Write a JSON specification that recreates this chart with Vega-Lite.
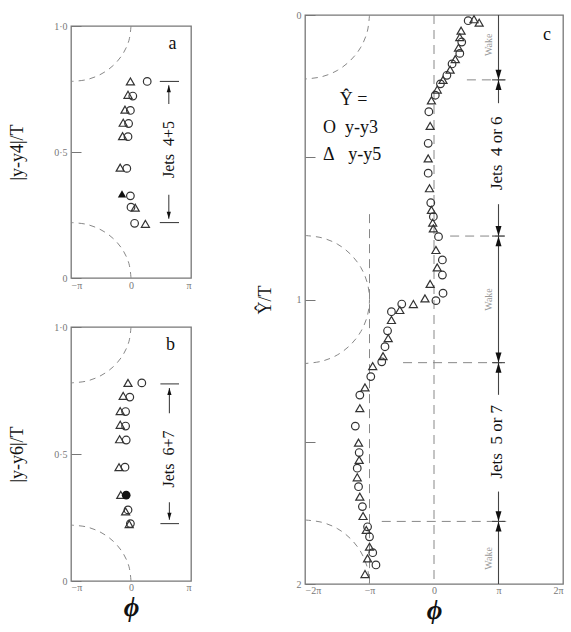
{
  "$schema": "https://vega.github.io/schema/vega-lite/v6.json",
  "background": "white",
  "padding": {"left": 8, "top": 9, "right": 0, "bottom": 0},
  "config": {
    "view": {"stroke": "#777", "strokeWidth": 1.3},
    "font": "Liberation Serif",
    "axis": {"domain": false, "grid": false, "labelColor": "#777", "labelFontSize": 10, "labelFont": "Liberation Serif", "tickColor": "#777", "titleFont": "Liberation Serif", "titleFontWeight": "normal", "titleColor": "#111"}
  },
  "datasets": {
    "arcsAB": [
      {"arc": "t", "i": 0, "p": 0, "y": 1}, {"arc": "t", "i": 1, "p": -0.034, "y": 0.943}, {"arc": "t", "i": 2, "p": -0.134, "y": 0.89}, {"arc": "t", "i": 3, "p": -0.293, "y": 0.844}, {"arc": "t", "i": 4, "p": -0.5, "y": 0.809}, {"arc": "t", "i": 5, "p": -0.741, "y": 0.787}, {"arc": "t", "i": 6, "p": -1, "y": 0.78},
      {"arc": "b", "i": 0, "p": 0, "y": 0}, {"arc": "b", "i": 1, "p": -0.034, "y": 0.057}, {"arc": "b", "i": 2, "p": -0.134, "y": 0.11}, {"arc": "b", "i": 3, "p": -0.293, "y": 0.156}, {"arc": "b", "i": 4, "p": -0.5, "y": 0.191}, {"arc": "b", "i": 5, "p": -0.741, "y": 0.213}, {"arc": "b", "i": 6, "p": -1, "y": 0.22}
    ],
    "arcsC": [
      {"arc": "t", "i": 0, "p": -1, "y": 0}, {"arc": "t", "i": 1, "p": -1.034, "y": 0.058}, {"arc": "t", "i": 2, "p": -1.134, "y": 0.113}, {"arc": "t", "i": 3, "p": -1.293, "y": 0.159}, {"arc": "t", "i": 4, "p": -1.5, "y": 0.195}, {"arc": "t", "i": 5, "p": -1.741, "y": 0.217}, {"arc": "t", "i": 6, "p": -2, "y": 0.225},
      {"arc": "m", "i": 0, "p": -2, "y": 0.775}, {"arc": "m", "i": 1, "p": -1.741, "y": 0.783}, {"arc": "m", "i": 2, "p": -1.5, "y": 0.805}, {"arc": "m", "i": 3, "p": -1.293, "y": 0.841}, {"arc": "m", "i": 4, "p": -1.134, "y": 0.8875}, {"arc": "m", "i": 5, "p": -1.034, "y": 0.942}, {"arc": "m", "i": 6, "p": -1, "y": 1}, {"arc": "m", "i": 7, "p": -1.034, "y": 1.058}, {"arc": "m", "i": 8, "p": -1.134, "y": 1.1125}, {"arc": "m", "i": 9, "p": -1.293, "y": 1.159}, {"arc": "m", "i": 10, "p": -1.5, "y": 1.195}, {"arc": "m", "i": 11, "p": -1.741, "y": 1.217}, {"arc": "m", "i": 12, "p": -2, "y": 1.225},
      {"arc": "b", "i": 0, "p": -2, "y": 1.775}, {"arc": "b", "i": 1, "p": -1.741, "y": 1.783}, {"arc": "b", "i": 2, "p": -1.5, "y": 1.805}, {"arc": "b", "i": 3, "p": -1.293, "y": 1.841}, {"arc": "b", "i": 4, "p": -1.134, "y": 1.8875}, {"arc": "b", "i": 5, "p": -1.034, "y": 1.942}, {"arc": "b", "i": 6, "p": -1, "y": 2}
    ],
    "ptsA": [
      {"s": "D", "f": 0, "p": -0.01, "y": 0.78}, {"s": "O", "f": 0, "p": 0.27, "y": 0.78},
      {"s": "D", "f": 0, "p": -0.05, "y": 0.727}, {"s": "O", "f": 0, "p": 0.03, "y": 0.722},
      {"s": "D", "f": 0, "p": -0.1, "y": 0.668}, {"s": "O", "f": 0, "p": -0.01, "y": 0.665},
      {"s": "D", "f": 0, "p": -0.13, "y": 0.616}, {"s": "O", "f": 0, "p": -0.04, "y": 0.613},
      {"s": "D", "f": 0, "p": -0.14, "y": 0.563}, {"s": "O", "f": 0, "p": -0.05, "y": 0.561},
      {"s": "D", "f": 0, "p": -0.18, "y": 0.438}, {"s": "O", "f": 0, "p": -0.07, "y": 0.435},
      {"s": "D", "f": 1, "p": -0.15, "y": 0.334}, {"s": "O", "f": 0, "p": -0.01, "y": 0.326},
      {"s": "D", "f": 0, "p": 0.07, "y": 0.279}, {"s": "O", "f": 0, "p": 0.0, "y": 0.281},
      {"s": "O", "f": 0, "p": 0.06, "y": 0.217}, {"s": "D", "f": 0, "p": 0.24, "y": 0.215}
    ],
    "ptsB": [
      {"s": "D", "f": 0, "p": -0.05, "y": 0.78}, {"s": "O", "f": 0, "p": 0.18, "y": 0.78},
      {"s": "D", "f": 0, "p": -0.13, "y": 0.729}, {"s": "O", "f": 0, "p": -0.02, "y": 0.724},
      {"s": "D", "f": 0, "p": -0.18, "y": 0.669}, {"s": "O", "f": 0, "p": -0.09, "y": 0.667},
      {"s": "D", "f": 0, "p": -0.18, "y": 0.615}, {"s": "O", "f": 0, "p": -0.09, "y": 0.61},
      {"s": "D", "f": 0, "p": -0.19, "y": 0.558}, {"s": "O", "f": 0, "p": -0.08, "y": 0.555},
      {"s": "D", "f": 0, "p": -0.2, "y": 0.448}, {"s": "O", "f": 0, "p": -0.1, "y": 0.448},
      {"s": "D", "f": 0, "p": -0.17, "y": 0.339}, {"s": "O", "f": 1, "p": -0.08, "y": 0.338},
      {"s": "D", "f": 0, "p": -0.09, "y": 0.274}, {"s": "O", "f": 0, "p": -0.05, "y": 0.28},
      {"s": "D", "f": 0, "p": -0.03, "y": 0.224}, {"s": "O", "f": 0, "p": -0.01, "y": 0.226}
    ],
    "ptsC": [
      {"s": "O", "p": 0.53, "y": 0.02}, {"s": "D", "p": 0.62, "y": 0.015}, {"s": "D", "p": 0.7, "y": 0.027},
      {"s": "D", "p": 0.42, "y": 0.055}, {"s": "D", "p": 0.4, "y": 0.078}, {"s": "O", "p": 0.43, "y": 0.095},
      {"s": "D", "p": 0.38, "y": 0.115}, {"s": "O", "p": 0.4, "y": 0.135}, {"s": "D", "p": 0.33, "y": 0.155},
      {"s": "O", "p": 0.28, "y": 0.172}, {"s": "D", "p": 0.25, "y": 0.192}, {"s": "O", "p": 0.2, "y": 0.212},
      {"s": "D", "p": 0.14, "y": 0.228}, {"s": "O", "p": 0.1, "y": 0.242}, {"s": "D", "p": 0.05, "y": 0.262},
      {"s": "O", "p": 0.02, "y": 0.282}, {"s": "D", "p": -0.04, "y": 0.3},
      {"s": "O", "p": -0.08, "y": 0.34}, {"s": "D", "p": -0.06, "y": 0.39}, {"s": "O", "p": -0.09, "y": 0.451},
      {"s": "D", "p": -0.09, "y": 0.504}, {"s": "O", "p": -0.09, "y": 0.556}, {"s": "D", "p": -0.07, "y": 0.609},
      {"s": "O", "p": -0.05, "y": 0.66}, {"s": "D", "p": -0.04, "y": 0.685}, {"s": "O", "p": -0.01, "y": 0.709},
      {"s": "D", "p": -0.02, "y": 0.73}, {"s": "D", "p": -0.01, "y": 0.75}, {"s": "O", "p": 0.07, "y": 0.779},
      {"s": "D", "p": 0.03, "y": 0.826}, {"s": "O", "p": 0.13, "y": 0.861}, {"s": "D", "p": 0.05, "y": 0.887},
      {"s": "O", "p": 0.13, "y": 0.914}, {"s": "D", "p": -0.06, "y": 0.945}, {"s": "O", "p": 0.14, "y": 0.978},
      {"s": "D", "p": -0.14, "y": 0.996}, {"s": "O", "p": 0.03, "y": 1.004},
      {"s": "D", "p": -0.32, "y": 1.016}, {"s": "O", "p": -0.5, "y": 1.016}, {"s": "D", "p": -0.53, "y": 1.037},
      {"s": "O", "p": -0.66, "y": 1.043}, {"s": "D", "p": -0.66, "y": 1.072}, {"s": "O", "p": -0.72, "y": 1.11},
      {"s": "D", "p": -0.71, "y": 1.136}, {"s": "O", "p": -0.76, "y": 1.166}, {"s": "D", "p": -0.79, "y": 1.199},
      {"s": "O", "p": -0.81, "y": 1.219}, {"s": "D", "p": -0.95, "y": 1.234}, {"s": "O", "p": -0.98, "y": 1.271},
      {"s": "D", "p": -1.07, "y": 1.309}, {"s": "O", "p": -1.15, "y": 1.336}, {"s": "D", "p": -1.15, "y": 1.382},
      {"s": "O", "p": -1.22, "y": 1.445}, {"s": "D", "p": -1.17, "y": 1.503}, {"s": "O", "p": -1.16, "y": 1.538},
      {"s": "D", "p": -1.16, "y": 1.564}, {"s": "O", "p": -1.19, "y": 1.593}, {"s": "D", "p": -1.19, "y": 1.625},
      {"s": "O", "p": -1.17, "y": 1.658}, {"s": "D", "p": -1.15, "y": 1.693}, {"s": "O", "p": -1.11, "y": 1.728},
      {"s": "D", "p": -1.1, "y": 1.761}, {"s": "O", "p": -1.03, "y": 1.799}, {"s": "D", "p": -1.05, "y": 1.81},
      {"s": "O", "p": -1.0, "y": 1.834}, {"s": "D", "p": -1.0, "y": 1.869}, {"s": "O", "p": -0.95, "y": 1.89},
      {"s": "D", "p": -1.03, "y": 1.91}, {"s": "O", "p": -0.9, "y": 1.933}, {"s": "D", "p": -1.07, "y": 1.965}
    ],
    "dimA": [
      {"p": 0.63, "p2": 0.63, "y": 0.69, "y2": 0.765}, {"p": 0.63, "p2": 0.63, "y": 0.235, "y2": 0.33},
      {"p": 0.48, "p2": 0.8, "y": 0.78, "y2": 0.78}, {"p": 0.48, "p2": 0.8, "y": 0.22, "y2": 0.22}
    ],
    "arrA": [{"p": 0.63, "y": 0.751, "dir": "up"}, {"p": 0.63, "y": 0.249, "dir": "down"}],
    "dimB": [
      {"p": 0.64, "p2": 0.64, "y": 0.66, "y2": 0.76}, {"p": 0.64, "p2": 0.64, "y": 0.241, "y2": 0.31},
      {"p": 0.49, "p2": 0.8, "y": 0.776, "y2": 0.776}, {"p": 0.49, "p2": 0.8, "y": 0.226, "y2": 0.226}
    ],
    "arrB": [{"p": 0.64, "y": 0.746, "dir": "up"}, {"p": 0.64, "y": 0.255, "dir": "down"}],
    "dashC": [
      {"p": 0, "p2": 0, "y": 0, "y2": 2}, {"p": -1, "p2": -1, "y": 0.7, "y2": 2},
      {"p": 0.51, "p2": 1.12, "y": 0.228, "y2": 0.228}, {"p": 0.25, "p2": 1.12, "y": 0.777, "y2": 0.777},
      {"p": -0.48, "p2": 1.12, "y": 1.222, "y2": 1.222}, {"p": -0.81, "p2": 1.12, "y": 1.78, "y2": 1.78}
    ],
    "solidC": [
      {"p": 1, "p2": 1, "y": 0, "y2": 0.31}, {"p": 1, "p2": 1, "y": 0.665, "y2": 1.335}, {"p": 1, "p2": 1, "y": 1.675, "y2": 2},
      {"p": 0.9, "p2": 1.1, "y": 0.228, "y2": 0.228}, {"p": 0.9, "p2": 1.1, "y": 0.777, "y2": 0.777},
      {"p": 0.9, "p2": 1.1, "y": 1.222, "y2": 1.222}, {"p": 0.9, "p2": 1.1, "y": 1.78, "y2": 1.78}
    ],
    "arrC": [
      {"p": 1, "y": 0.21, "dir": "down"}, {"p": 1, "y": 0.246, "dir": "up"},
      {"p": 1, "y": 0.759, "dir": "down"}, {"p": 1, "y": 0.795, "dir": "up"},
      {"p": 1, "y": 1.204, "dir": "down"}, {"p": 1, "y": 1.24, "dir": "up"},
      {"p": 1, "y": 1.762, "dir": "down"}, {"p": 1, "y": 1.798, "dir": "up"}
    ],
    "jetsC": [{"t": "Jets\u00a0\u00a04 or 6", "p": 0.98, "y": 0.486}, {"t": "Jets\u00a0\u00a05 or 7", "p": 0.98, "y": 1.5}],
    "wakeC": [{"t": "Wake", "p": 0.86, "y": 0.105}, {"t": "Wake", "p": 0.86, "y": 1.0}, {"t": "Wake", "p": 0.86, "y": 1.91}],
    "legC": [{"t": "Ŷ =", "p": -1.46, "y": 0.3}, {"t": "O\u00a0\u00a0y-y3", "p": -1.72, "y": 0.398}, {"t": "Δ\u00a0\u00a0\u00a0y-y5", "p": -1.72, "y": 0.492}],
    "labC": [{"t": "c", "p": 1.75, "y": 0.07}],
    "jetsA": [{"t": "Jets\u00a0\u00a04+5", "p": 0.63, "y": 0.51}],
    "labA": [{"t": "a", "p": 0.69, "y": 0.927}],
    "jetsB": [{"t": "Jets\u00a0\u00a06+7", "p": 0.64, "y": 0.48}],
    "labB": [{"t": "b", "p": 0.66, "y": 0.928}]
  },
  "spacing": 63,
  "hconcat": [
    {
      "spacing": 0,
      "vconcat": [
        {"width": 120, "height": 3, "view": {"stroke": null}, "data": {"values": [{"v": 0}]}, "mark": {"type": "point", "opacity": 0}, "encoding": {}},
        {
          "spacing": 30,
          "vconcat": [
            {
              "width": 120, "height": 252,
              "layer": [
                {"data": {"name": "arcsAB"}, "mark": {"type": "line", "interpolate": "cardinal", "stroke": "#888", "strokeDash": [6, 5], "strokeWidth": 1, "clip": true},
                 "encoding": {
                   "x": {"field": "p", "type": "quantitative", "scale": {"domain": [-1, 1], "nice": false},
                         "axis": {"values": [-1, 0, 1], "labelExpr": "datum.value == 0 ? '0' : (datum.value < 0 ? '−π' : 'π')", "ticks": false, "labelPadding": 2, "title": null}},
                   "y": {"field": "y", "type": "quantitative", "scale": {"domain": [0, 1], "nice": false},
                         "axis": {"values": [0, 0.5, 1], "labelExpr": "datum.value == 1 ? '1·0' : (datum.value == 0.5 ? '0·5' : '0')", "tickSize": -10, "labelPadding": 14, "title": "|y-y4|/T", "titleFontSize": 18, "titlePadding": 27}},
                   "detail": {"field": "arc"}, "order": {"field": "i"}}},
                {"data": {"name": "dimA"}, "mark": {"type": "rule", "stroke": "#444", "strokeWidth": 1.1},
                 "encoding": {"x": {"field": "p", "type": "quantitative"}, "x2": {"field": "p2"}, "y": {"field": "y", "type": "quantitative"}, "y2": {"field": "y2"}}},
                {"data": {"name": "arrA"}, "transform": [{"filter": "datum.dir == 'up'"}], "mark": {"type": "point", "filled": true, "fill": "#111", "size": 49, "opacity": 1, "shape": "M0,-1L0.6,1L-0.6,1Z"},
                 "encoding": {"x": {"field": "p", "type": "quantitative"}, "y": {"field": "y", "type": "quantitative"}}},
                {"data": {"name": "arrA"}, "transform": [{"filter": "datum.dir == 'down'"}], "mark": {"type": "point", "filled": true, "fill": "#111", "size": 49, "opacity": 1, "shape": "M-0.6,-1L0.6,-1L0,1Z"},
                 "encoding": {"x": {"field": "p", "type": "quantitative"}, "y": {"field": "y", "type": "quantitative"}}},
                {"data": {"name": "ptsA"}, "transform": [{"filter": "datum.f == 0 && datum.s == 'O'"}], "mark": {"type": "point", "shape": "circle", "filled": false, "stroke": "#333", "strokeWidth": 1.2, "size": 58, "opacity": 1},
                 "encoding": {"x": {"field": "p", "type": "quantitative"}, "y": {"field": "y", "type": "quantitative"}}},
                {"data": {"name": "ptsA"}, "transform": [{"filter": "datum.f == 0 && datum.s == 'D'"}], "mark": {"type": "point", "shape": "triangle-up", "filled": false, "stroke": "#333", "strokeWidth": 1.2, "size": 65, "opacity": 1},
                 "encoding": {"x": {"field": "p", "type": "quantitative"}, "y": {"field": "y", "type": "quantitative"}}},
                {"data": {"name": "ptsA"}, "transform": [{"filter": "datum.f == 1"}], "mark": {"type": "point", "shape": "triangle-up", "filled": true, "fill": "#111", "size": 70, "opacity": 1},
                 "encoding": {"x": {"field": "p", "type": "quantitative"}, "y": {"field": "y", "type": "quantitative"}}},
                {"data": {"name": "jetsA"}, "mark": {"type": "text", "angle": 270, "fontSize": 16, "font": "Liberation Serif", "color": "#111"},
                 "encoding": {"x": {"field": "p", "type": "quantitative"}, "y": {"field": "y", "type": "quantitative"}, "text": {"field": "t"}}},
                {"data": {"name": "labA"}, "mark": {"type": "text", "fontSize": 18, "font": "Liberation Serif", "color": "#111"},
                 "encoding": {"x": {"field": "p", "type": "quantitative"}, "y": {"field": "y", "type": "quantitative"}, "text": {"field": "t"}}}
              ]
            },
            {
              "width": 120, "height": 254,
              "layer": [
                {"data": {"name": "arcsAB"}, "mark": {"type": "line", "interpolate": "cardinal", "stroke": "#888", "strokeDash": [6, 5], "strokeWidth": 1, "clip": true},
                 "encoding": {
                   "x": {"field": "p", "type": "quantitative", "scale": {"domain": [-1, 1], "nice": false},
                         "axis": {"values": [-1, 0, 1], "labelExpr": "datum.value == 0 ? '0' : (datum.value < 0 ? '−π' : 'π')", "ticks": false, "labelPadding": 1, "title": "ϕ", "titleFontSize": 27, "titleFontStyle": "italic", "titleFontWeight": "bold", "titlePadding": 2}},
                   "y": {"field": "y", "type": "quantitative", "scale": {"domain": [0, 1], "nice": false},
                         "axis": {"values": [0, 0.5, 1], "labelExpr": "datum.value == 1 ? '1·0' : (datum.value == 0.5 ? '0·5' : '0')", "tickSize": -10, "labelPadding": 14, "title": "|y-y6|/T", "titleFontSize": 18, "titlePadding": 27}},
                   "detail": {"field": "arc"}, "order": {"field": "i"}}},
                {"data": {"name": "dimB"}, "mark": {"type": "rule", "stroke": "#444", "strokeWidth": 1.1},
                 "encoding": {"x": {"field": "p", "type": "quantitative"}, "x2": {"field": "p2"}, "y": {"field": "y", "type": "quantitative"}, "y2": {"field": "y2"}}},
                {"data": {"name": "arrB"}, "transform": [{"filter": "datum.dir == 'up'"}], "mark": {"type": "point", "filled": true, "fill": "#111", "size": 49, "opacity": 1, "shape": "M0,-1L0.6,1L-0.6,1Z"},
                 "encoding": {"x": {"field": "p", "type": "quantitative"}, "y": {"field": "y", "type": "quantitative"}}},
                {"data": {"name": "arrB"}, "transform": [{"filter": "datum.dir == 'down'"}], "mark": {"type": "point", "filled": true, "fill": "#111", "size": 49, "opacity": 1, "shape": "M-0.6,-1L0.6,-1L0,1Z"},
                 "encoding": {"x": {"field": "p", "type": "quantitative"}, "y": {"field": "y", "type": "quantitative"}}},
                {"data": {"name": "ptsB"}, "transform": [{"filter": "datum.f == 0 && datum.s == 'O'"}], "mark": {"type": "point", "shape": "circle", "filled": false, "stroke": "#333", "strokeWidth": 1.2, "size": 58, "opacity": 1},
                 "encoding": {"x": {"field": "p", "type": "quantitative"}, "y": {"field": "y", "type": "quantitative"}}},
                {"data": {"name": "ptsB"}, "transform": [{"filter": "datum.f == 0 && datum.s == 'D'"}], "mark": {"type": "point", "shape": "triangle-up", "filled": false, "stroke": "#333", "strokeWidth": 1.2, "size": 65, "opacity": 1},
                 "encoding": {"x": {"field": "p", "type": "quantitative"}, "y": {"field": "y", "type": "quantitative"}}},
                {"data": {"name": "ptsB"}, "transform": [{"filter": "datum.f == 1"}], "mark": {"type": "point", "shape": "circle", "filled": true, "fill": "#111", "size": 75, "opacity": 1},
                 "encoding": {"x": {"field": "p", "type": "quantitative"}, "y": {"field": "y", "type": "quantitative"}}},
                {"data": {"name": "jetsB"}, "mark": {"type": "text", "angle": 270, "fontSize": 16, "font": "Liberation Serif", "color": "#111"},
                 "encoding": {"x": {"field": "p", "type": "quantitative"}, "y": {"field": "y", "type": "quantitative"}, "text": {"field": "t"}}},
                {"data": {"name": "labB"}, "mark": {"type": "text", "fontSize": 18, "font": "Liberation Serif", "color": "#111"},
                 "encoding": {"x": {"field": "p", "type": "quantitative"}, "y": {"field": "y", "type": "quantitative"}, "text": {"field": "t"}}}
              ]
            }
          ]
        }
      ]
    },
    {
      "width": 258, "height": 569,
      "layer": [
        {"data": {"name": "arcsC"}, "mark": {"type": "line", "interpolate": "cardinal", "stroke": "#888", "strokeDash": [6, 5], "strokeWidth": 1, "clip": true},
         "encoding": {
           "x": {"field": "p", "type": "quantitative", "scale": {"domain": [-2, 2], "nice": false},
                 "axis": {"values": [-2, -1, 0, 1, 2], "labelExpr": "datum.value == 0 ? '0' : datum.value == 1 ? 'π' : datum.value == -1 ? '−π' : datum.value == 2 ? '2π' : '−2π'", "ticks": false, "labelPadding": 1, "title": "ϕ", "titleFontSize": 27, "titleFontStyle": "italic", "titleFontWeight": "bold", "titlePadding": 2}},
           "y": {"field": "y", "type": "quantitative", "scale": {"domain": [0, 2], "nice": false, "reverse": true},
                 "axis": {"values": [0, 0.5, 1, 1.5, 2], "labelExpr": "datum.value % 1 == 0 ? format(datum.value, 'd') : ''", "tickSize": -10, "labelPadding": 14, "title": "Ŷ/T", "titleFontSize": 18, "titlePadding": 22}},
           "detail": {"field": "arc"}, "order": {"field": "i"}}},
        {"data": {"name": "dashC"}, "mark": {"type": "rule", "stroke": "#888", "strokeWidth": 1, "strokeDash": [9, 6]},
         "encoding": {"x": {"field": "p", "type": "quantitative"}, "x2": {"field": "p2"}, "y": {"field": "y", "type": "quantitative"}, "y2": {"field": "y2"}}},
        {"data": {"name": "solidC"}, "mark": {"type": "rule", "stroke": "#444", "strokeWidth": 1.1},
         "encoding": {"x": {"field": "p", "type": "quantitative"}, "x2": {"field": "p2"}, "y": {"field": "y", "type": "quantitative"}, "y2": {"field": "y2"}}},
        {"data": {"name": "arrC"}, "transform": [{"filter": "datum.dir == 'up'"}], "mark": {"type": "point", "filled": true, "fill": "#111", "size": 100, "opacity": 1, "shape": "M0,-1L0.6,1L-0.6,1Z"},
         "encoding": {"x": {"field": "p", "type": "quantitative"}, "y": {"field": "y", "type": "quantitative"}}},
        {"data": {"name": "arrC"}, "transform": [{"filter": "datum.dir == 'down'"}], "mark": {"type": "point", "filled": true, "fill": "#111", "size": 100, "opacity": 1, "shape": "M-0.6,-1L0.6,-1L0,1Z"},
         "encoding": {"x": {"field": "p", "type": "quantitative"}, "y": {"field": "y", "type": "quantitative"}}},
        {"data": {"name": "ptsC"}, "transform": [{"filter": "datum.s == 'O'"}], "mark": {"type": "point", "shape": "circle", "filled": false, "stroke": "#333", "strokeWidth": 1.2, "size": 58, "opacity": 1},
         "encoding": {"x": {"field": "p", "type": "quantitative"}, "y": {"field": "y", "type": "quantitative"}}},
        {"data": {"name": "ptsC"}, "transform": [{"filter": "datum.s == 'D'"}], "mark": {"type": "point", "shape": "triangle-up", "filled": false, "stroke": "#333", "strokeWidth": 1.2, "size": 65, "opacity": 1},
         "encoding": {"x": {"field": "p", "type": "quantitative"}, "y": {"field": "y", "type": "quantitative"}}},
        {"data": {"name": "jetsC"}, "mark": {"type": "text", "angle": 270, "fontSize": 17, "font": "Liberation Serif", "color": "#111"},
         "encoding": {"x": {"field": "p", "type": "quantitative"}, "y": {"field": "y", "type": "quantitative"}, "text": {"field": "t"}}},
        {"data": {"name": "wakeC"}, "mark": {"type": "text", "angle": 270, "fontSize": 10, "font": "Liberation Serif", "color": "#999"},
         "encoding": {"x": {"field": "p", "type": "quantitative"}, "y": {"field": "y", "type": "quantitative"}, "text": {"field": "t"}}},
        {"data": {"name": "legC"}, "mark": {"type": "text", "align": "left", "fontSize": 18, "font": "Liberation Serif", "color": "#111"},
         "encoding": {"x": {"field": "p", "type": "quantitative"}, "y": {"field": "y", "type": "quantitative"}, "text": {"field": "t"}}},
        {"data": {"name": "labC"}, "mark": {"type": "text", "fontSize": 18, "font": "Liberation Serif", "color": "#111"},
         "encoding": {"x": {"field": "p", "type": "quantitative"}, "y": {"field": "y", "type": "quantitative"}, "text": {"field": "t"}}}
      ]
    }
  ]
}
